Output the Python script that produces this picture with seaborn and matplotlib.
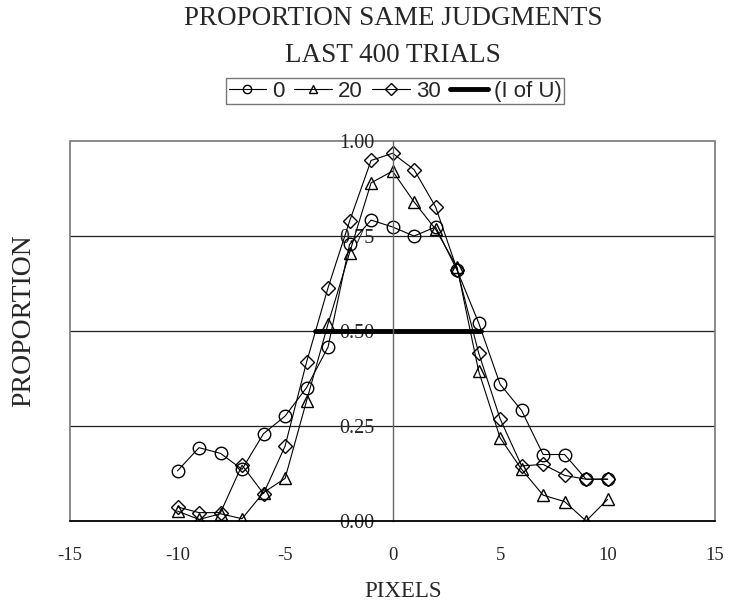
import numpy as np
import pandas as pd
import seaborn as sns
import matplotlib.pyplot as plt
from matplotlib.patches import Rectangle
from matplotlib.lines import Line2D

# data
pixels = list(range(-10, 11))
p0 = [0.132, 0.193, 0.178, 0.136, 0.230, 0.276, 0.351, 0.458, 0.728, 0.792, 0.774,
      0.750, 0.774, 0.660, 0.522, 0.360, 0.291, 0.175, 0.175, 0.110, 0.110]
p20 = [0.026, 0.004, 0.019, 0.006, 0.075, 0.112, 0.316, 0.519, 0.706, 0.890, 0.921,
       0.840, 0.768, 0.668, 0.395, 0.219, 0.136, 0.068, 0.051, 0.000, 0.057]
p30 = [0.037, 0.022, 0.022, 0.147, 0.072, 0.197, 0.418, 0.614, 0.789, 0.949, 0.968,
       0.925, 0.827, 0.662, 0.443, 0.269, 0.145, 0.149, 0.120, 0.110, 0.110]
iou_x = [-3.63, 4.12]
iou_y = [0.5, 0.5]

series_names = ['0', '20', '30']
series_markers = {'0': 'o', '20': '^', '30': 'D'}

df = pd.DataFrame({
    'pixels': pixels * 3,
    'prop': p0 + p20 + p30,
    'series': ['0'] * 21 + ['20'] * 21 + ['30'] * 21,
})

sns.set_style('white')
plt.rcParams['font.family'] = ['Liberation Serif', 'DejaVu Serif']
plt.rcParams['axes.unicode_minus'] = False

fig = plt.figure(figsize=(7.29, 6.03), dpi=100)
ax = fig.add_axes([0.096, 0.136, 0.885, 0.630])

for name in series_names:
    sub = df[df['series'] == name]
    sns.lineplot(data=sub, x='pixels', y='prop', ax=ax, color='black',
                 linewidth=0.8, marker=series_markers[name],
                 markersize=9 if name != '30' else 7.5,
                 markerfacecolor='none', markeredgecolor='black',
                 markeredgewidth=1.0, legend=False)

sns.lineplot(x=iou_x, y=iou_y, ax=ax, color='black', linewidth=3.5, legend=False)

ax.set_xlim(-15, 15)
ax.set_ylim(0, 1)
ax.set_xticks([-15, -10, -5, 0, 5, 10, 15])
ax.set_yticks([0, 0.25, 0.5, 0.75, 1.0])
ax.set_yticklabels(['0.00', '0.25', '0.50', '0.75', '1.00'])

for yv in [0.25, 0.5, 0.75]:
    ax.axhline(yv, color='#222222', linewidth=0.9, zorder=0)

for s in ['top', 'right']:
    ax.spines[s].set_visible(False)
ax.spines['left'].set_position(('data', 0))
ax.spines['left'].set_color('#666666')
ax.spines['left'].set_linewidth(1.0)
ax.spines['bottom'].set_color('black')
ax.spines['bottom'].set_linewidth(1.2)
ax.add_patch(Rectangle((0, 0), 1, 1, transform=ax.transAxes, fill=False,
                       edgecolor='#777777', linewidth=1.2, zorder=0, clip_on=False))

ax.tick_params(axis='y', direction='inout', length=8, color='black', labelsize=14.5, pad=9)
ax.tick_params(axis='x', direction='inout', length=8, color='#555555', labelsize=13.5, pad=15)
ax.set_xlabel('')
ax.set_ylabel('')
fig.text(0.553, 0.010, 'PIXELS', ha='center', va='baseline', fontsize=16.5)
fig.text(0.032, 0.469, 'PROPORTION', rotation=90, ha='center', va='center', fontsize=20)

fig.text(0.539, 0.9585, 'PROPORTION SAME JUDGMENTS', ha='center', va='baseline', fontsize=19.5)
fig.text(0.539, 0.897, 'LAST 400 TRIALS', ha='center', va='baseline', fontsize=19.5)

handles = [Line2D([], [], color='black', linewidth=0.8, marker=series_markers[n],
                  markersize=6, markerfacecolor='none', markeredgecolor='black')
           for n in series_names]
handles.append(Line2D([], [], color='black', linewidth=3.5))
leg = fig.legend(handles, ['0', '20', '30', '(I of U)'], loc='center',
                 bbox_to_anchor=(0.542, 0.849), ncol=4, frameon=True, fancybox=False,
                 handlelength=1.7, handletextpad=0.25, columnspacing=0.45,
                 borderpad=0.1, borderaxespad=0,
                 prop={'family': 'Liberation Sans', 'size': 16})
leg.get_frame().set_edgecolor('#555555')
leg.get_frame().set_linewidth(1.0)

fig.savefig('out.png', dpi=100)
